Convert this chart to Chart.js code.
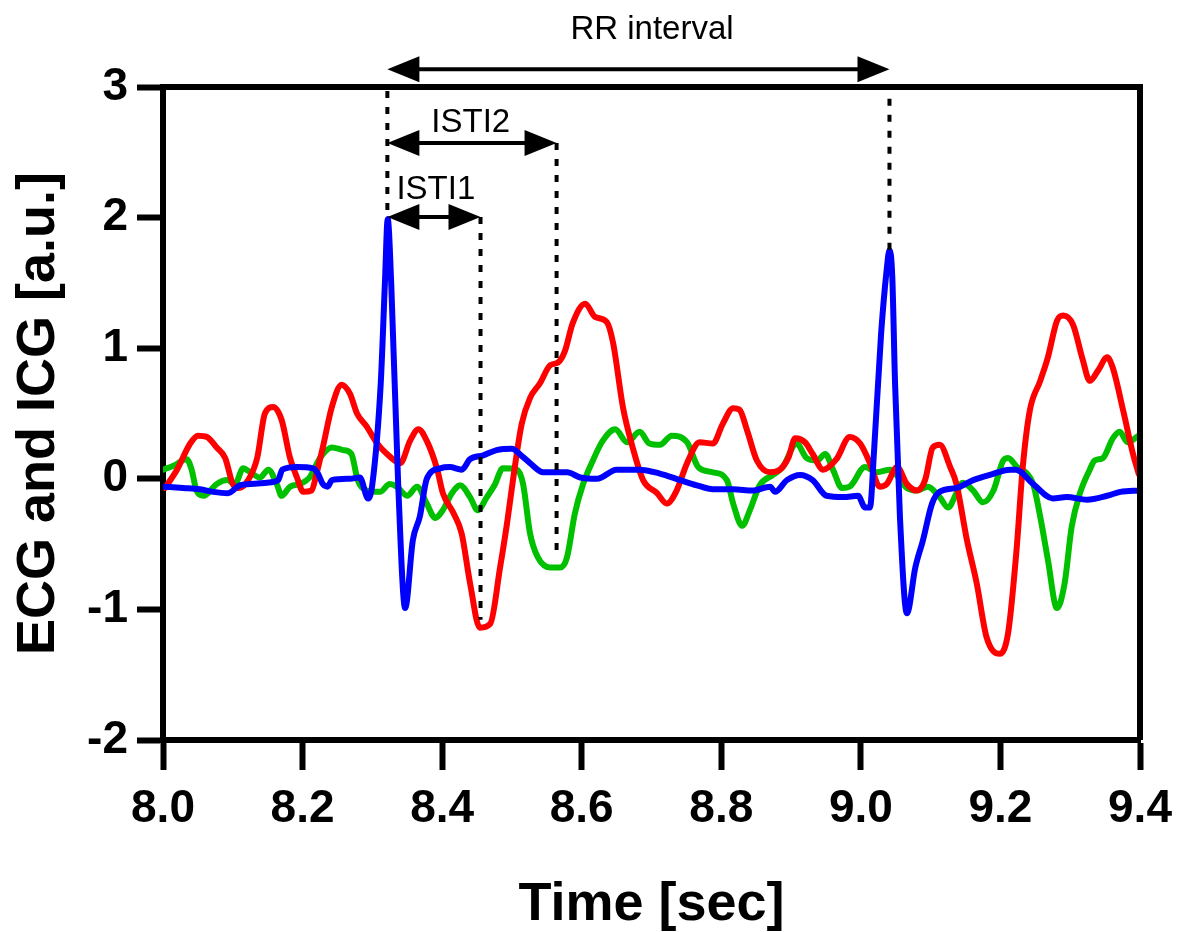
<!DOCTYPE html>
<html>
<head>
<meta charset="utf-8">
<script src="https://cdn.jsdelivr.net/npm/chart.js@4.4.1/dist/chart.umd.min.js"></script>
<style>
  html, body { margin: 0; padding: 0; background: #fff; }
  #wrap { width: 1180px; height: 932px; }
</style>
</head>
<body>
<div id="wrap"><canvas id="myChart"></canvas></div>
<script>
// ECG trace (blue)
const ecgTime = [8.000, 8.029, 8.053, 8.072, 8.093, 8.110, 8.125, 8.149, 8.165, 8.171,
  8.192, 8.215, 8.222, 8.229, 8.236, 8.242, 8.268, 8.282, 8.294, 8.300,
  8.312, 8.318, 8.322, 8.327, 8.337, 8.347, 8.358, 8.368, 8.378, 8.397,
  8.411, 8.428, 8.440, 8.459, 8.478, 8.500, 8.513, 8.526, 8.545, 8.579,
  8.598, 8.622, 8.650, 8.683, 8.712, 8.741, 8.765, 8.788, 8.817, 8.845,
  8.870, 8.877, 8.894, 8.913, 8.931, 8.951, 8.975, 8.996, 9.006, 9.013,
  9.019, 9.029, 9.037, 9.041, 9.045, 9.049, 9.056, 9.066, 9.078, 9.089,
  9.102, 9.113, 9.137, 9.161, 9.185, 9.214, 9.222, 9.247, 9.275, 9.295,
  9.324, 9.353, 9.372, 9.400];
const ecgValue = [-0.06, -0.07, -0.08, -0.10, -0.11, -0.05, -0.04, -0.03, -0.01, 0.07,
  0.09, 0.08, 0.04, -0.04, -0.06, -0.01, 0.00, 0.01, -0.15, -0.04,
  0.73, 1.50, 1.99, 1.50, -0.04, -0.99, -0.47, -0.29, 0.00, 0.08,
  0.09, 0.07, 0.15, 0.18, 0.22, 0.23, 0.18, 0.12, 0.05, 0.05,
  0.01, 0.00, 0.07, 0.07, 0.04, -0.01, -0.05, -0.08, -0.08, -0.09,
  -0.06, -0.10, -0.01, 0.03, -0.01, -0.13, -0.14, -0.13, -0.22, -0.22,
  0.22, 1.11, 1.60, 1.75, 1.55, 0.73, -0.29, -1.03, -0.68, -0.47,
  -0.19, -0.10, -0.07, -0.01, 0.03, 0.07, 0.07, -0.04, -0.15, -0.14,
  -0.16, -0.13, -0.10, -0.09];

// ICG trace (red)
const icgTime = [8.003, 8.020, 8.039, 8.050, 8.063, 8.077, 8.089, 8.100, 8.108, 8.122,
  8.135, 8.146, 8.158, 8.170, 8.182, 8.192, 8.201, 8.213, 8.220, 8.229,
  8.242, 8.256, 8.268, 8.278, 8.292, 8.307, 8.321, 8.340, 8.354, 8.366,
  8.378, 8.393, 8.401, 8.416, 8.428, 8.440, 8.454, 8.469, 8.483, 8.493,
  8.502, 8.514, 8.526, 8.540, 8.555, 8.566, 8.576, 8.587, 8.605, 8.619,
  8.636, 8.645, 8.659, 8.673, 8.688, 8.708, 8.722, 8.736, 8.751, 8.769,
  8.788, 8.802, 8.817, 8.826, 8.837, 8.851, 8.870, 8.884, 8.896, 8.906,
  8.920, 8.931, 8.946, 8.965, 8.984, 8.999, 9.013, 9.027, 9.037, 9.052,
  9.066, 9.080, 9.092, 9.103, 9.113, 9.128, 9.137, 9.152, 9.166, 9.180,
  9.199, 9.211, 9.223, 9.232, 9.242, 9.257, 9.268, 9.281, 9.290, 9.304,
  9.318, 9.328, 9.340, 9.353, 9.361, 9.376, 9.390, 9.398];
const icgValue = [-0.07, 0.07, 0.27, 0.33, 0.32, 0.24, 0.16, -0.04, -0.07, -0.01,
  0.16, 0.50, 0.55, 0.45, 0.16, 0.01, -0.10, -0.09, 0.04, 0.24,
  0.55, 0.72, 0.65, 0.50, 0.40, 0.27, 0.19, 0.12, 0.29, 0.38,
  0.29, 0.07, -0.11, -0.26, -0.42, -0.80, -1.14, -1.11, -0.68, -0.34,
  0.01, 0.42, 0.62, 0.73, 0.87, 0.89, 0.98, 1.19, 1.34, 1.24,
  1.20, 1.04, 0.55, 0.24, -0.01, -0.11, -0.19, -0.09, 0.12, 0.28,
  0.27, 0.42, 0.54, 0.53, 0.37, 0.14, 0.05, 0.07, 0.16, 0.31,
  0.28, 0.19, 0.07, 0.15, 0.32, 0.27, 0.12, -0.06, -0.04, 0.09,
  -0.04, -0.09, -0.01, 0.24, 0.26, 0.09, -0.04, -0.47, -0.80, -1.21,
  -1.34, -1.18, -0.55, 0.09, 0.52, 0.75, 0.93, 1.21, 1.25, 1.18,
  0.91, 0.75, 0.83, 0.93, 0.85, 0.52, 0.19, 0.04];

// second ICG trace (green)
const icg2Time = [8.000, 8.015, 8.034, 8.041, 8.048, 8.058, 8.077, 8.092, 8.103, 8.115,
  8.125, 8.139, 8.151, 8.163, 8.170, 8.182, 8.196, 8.210, 8.225, 8.242,
  8.258, 8.270, 8.279, 8.292, 8.311, 8.325, 8.335, 8.350, 8.364, 8.378,
  8.390, 8.401, 8.414, 8.426, 8.440, 8.451, 8.464, 8.475, 8.487, 8.507,
  8.516, 8.526, 8.537, 8.555, 8.569, 8.579, 8.590, 8.602, 8.616, 8.630,
  8.648, 8.665, 8.683, 8.697, 8.712, 8.729, 8.751, 8.767, 8.788, 8.808,
  8.817, 8.830, 8.841, 8.855, 8.874, 8.888, 8.908, 8.922, 8.937, 8.949,
  8.960, 8.973, 8.984, 9.006, 9.023, 9.042, 9.066, 9.080, 9.096, 9.113,
  9.125, 9.137, 9.146, 9.161, 9.175, 9.190, 9.204, 9.211, 9.224, 9.238,
  9.247, 9.257, 9.268, 9.281, 9.292, 9.302, 9.314, 9.328, 9.335, 9.347,
  9.361, 9.371, 9.382, 9.398];
const icg2Value = [0.07, 0.10, 0.15, 0.07, -0.09, -0.13, -0.04, -0.01, -0.04, 0.08,
  0.05, 0.01, 0.07, -0.04, -0.13, -0.06, -0.04, 0.01, 0.16, 0.24,
  0.22, 0.19, -0.01, -0.09, -0.10, -0.04, -0.06, -0.13, -0.06, -0.19,
  -0.30, -0.24, -0.11, -0.05, -0.14, -0.24, -0.14, -0.05, 0.08, 0.07,
  -0.04, -0.42, -0.60, -0.68, -0.68, -0.60, -0.27, -0.04, 0.14, 0.29,
  0.38, 0.28, 0.36, 0.27, 0.26, 0.33, 0.28, 0.09, 0.05, -0.01,
  -0.19, -0.36, -0.24, -0.05, 0.03, 0.09, 0.27, 0.16, 0.14, 0.19,
  0.07, -0.07, -0.06, 0.09, 0.05, 0.07, -0.07, -0.09, -0.06, -0.14,
  -0.22, -0.11, -0.03, -0.09, -0.18, -0.09, 0.14, 0.16, 0.09, 0.04,
  -0.04, -0.29, -0.62, -0.99, -0.80, -0.37, -0.11, 0.07, 0.14, 0.16,
  0.31, 0.36, 0.28, 0.33];

const xTicks = [8.0, 8.2, 8.4, 8.6, 8.8, 9.0, 9.2, 9.4];
const yTicks = [-2, -1, 0, 1, 2, 3];

// interval markers (time of the R peaks and of the ISTI end points)
const rPeakTime = [8.3215, 9.041];
const rPeakValue = [2.0, 1.75];
const istiEndTime = [8.455, 8.564];
const istiEndValue = [-1.08, -0.60];
const istiNames = ["ISTI1", "ISTI2"];

const FONT = "'Liberation Sans', Arial, Helvetica, sans-serif";

function toPoints(times, values) {
  return times.map((t, i) => ({ x: t, y: values[i] }));
}

// arrow with filled heads at both ends
function drawArrow(ctx, x1, x2, y) {
  const len = 32, half = 13;
  ctx.beginPath();
  ctx.moveTo(x1 + len - 2, y);
  ctx.lineTo(x2 - len + 2, y);
  ctx.stroke();
  ctx.beginPath();
  ctx.moveTo(x1, y);
  ctx.lineTo(x1 + len, y - half);
  ctx.lineTo(x1 + len, y + half);
  ctx.closePath();
  ctx.fill();
  ctx.beginPath();
  ctx.moveTo(x2, y);
  ctx.lineTo(x2 - len, y - half);
  ctx.lineTo(x2 - len, y + half);
  ctx.closePath();
  ctx.fill();
}

const intervalPlugin = {
  id: "intervals",
  afterDatasetsDraw(chart) {
    const { ctx, chartArea } = chart;
    const x = chart.scales.x, y = chart.scales.y;
    ctx.save();
    // top and right frame
    ctx.strokeStyle = "#000";
    ctx.lineWidth = 6;
    ctx.lineJoin = "miter";
    ctx.beginPath();
    ctx.moveTo(chartArea.left, chartArea.top);
    ctx.lineTo(chartArea.right, chartArea.top);
    ctx.lineTo(chartArea.right, chartArea.bottom);
    ctx.stroke();

    // dotted guide lines
    ctx.lineWidth = 4;
    ctx.setLineDash([7, 9]);
    const guides = [
      [rPeakTime[0], 2.97, rPeakValue[0]],
      [rPeakTime[1], 2.91, rPeakValue[1]],
      [istiEndTime[0], 2.005, istiEndValue[0]],
      [istiEndTime[1], 2.571, istiEndValue[1]],
    ];
    guides.forEach(function (g) {
      const px = x.getPixelForValue(g[0]);
      ctx.beginPath();
      ctx.moveTo(px, y.getPixelForValue(g[1]));
      ctx.lineTo(px, y.getPixelForValue(g[2]));
      ctx.stroke();
    });
    ctx.setLineDash([]);

    // arrows
    ctx.fillStyle = "#000";
    ctx.lineWidth = 4;
    drawArrow(ctx, x.getPixelForValue(rPeakTime[0]), x.getPixelForValue(rPeakTime[1]), y.getPixelForValue(3.135));
    drawArrow(ctx, x.getPixelForValue(rPeakTime[0]), x.getPixelForValue(istiEndTime[1]), y.getPixelForValue(2.571));
    drawArrow(ctx, x.getPixelForValue(rPeakTime[0]), x.getPixelForValue(istiEndTime[0]), y.getPixelForValue(2.005));

    // labels
    ctx.font = "33px " + FONT;
    ctx.textAlign = "center";
    ctx.textBaseline = "alphabetic";
    ctx.fillText("RR interval", x.getPixelForValue(8.7007), y.getPixelForValue(3.369));
    ctx.fillText(istiNames[1], x.getPixelForValue(8.441), y.getPixelForValue(2.655));
    ctx.fillText(istiNames[0], x.getPixelForValue(8.391), y.getPixelForValue(2.14));
    ctx.restore();
  },
};

window.onload = function () {
  const ctx = document.getElementById("myChart").getContext("2d");

  const lineStyle = {
    borderWidth: 6,
    pointRadius: 0,
    fill: false,
    cubicInterpolationMode: "monotone",
    borderJoinStyle: "round",
    borderCapStyle: "round",
  };

  const data = {
    datasets: [
      Object.assign({ label: "ECG", data: toPoints(ecgTime, ecgValue), borderColor: "#0000FF" }, lineStyle),
      Object.assign({ label: "ICG", data: toPoints(icgTime, icgValue), borderColor: "#FF0000" }, lineStyle),
      Object.assign({ label: "ICG 2", data: toPoints(icg2Time, icg2Value), borderColor: "#00C000" }, lineStyle),
    ],
  };

  const tickFont = { family: FONT, size: 46, weight: "bold" };
  const titleFont = { family: FONT, size: 54, weight: "bold", lineHeight: 1 };

  const config = {
    type: "line",
    data: data,
    options: {
      responsive: true,
      maintainAspectRatio: false,
      animation: false,
      events: [],
      layout: { padding: { top: 87, right: 40, left: 0, bottom: 0 } },
      plugins: {
        legend: { display: false },
        tooltip: { enabled: false },
      },
      scales: {
        x: {
          type: "linear",
          min: 8.0,
          max: 9.4,
          afterBuildTicks: (s) => { s.ticks = xTicks.map((v) => ({ value: v })); },
          afterFit: (s) => { s.height = 192; s.paddingLeft = 0; s.paddingRight = 0; },
          border: { display: true, color: "#000", width: 6 },
          grid: { drawOnChartArea: false, drawTicks: true, tickLength: 30, tickWidth: 6, tickColor: "#000" },
          ticks: {
            color: "#000",
            font: tickFont,
            padding: 12,
            maxRotation: 0,
            autoSkip: false,
            callback: (v) => Number(v).toFixed(1),
          },
          title: { display: true, text: "Time [sec]", color: "#000", font: titleFont, padding: { top: 0, bottom: 0 } },
        },
        y: {
          type: "linear",
          min: -2,
          max: 3,
          afterBuildTicks: (s) => { s.ticks = yTicks.map((v) => ({ value: v })); },
          afterFit: (s) => { s.width = 163; s.paddingTop = 0; s.paddingBottom = 0; },
          border: { display: true, color: "#000", width: 6 },
          grid: { drawOnChartArea: false, drawTicks: true, tickLength: 26, tickWidth: 6, tickColor: "#000" },
          ticks: {
            color: "#000",
            font: tickFont,
            padding: 9,
            autoSkip: false,
            callback: (v) => String(v),
          },
          title: { display: true, text: "ECG and ICG [a.u.]", color: "#000", font: titleFont, padding: { top: 12, bottom: 0 } },
        },
      },
    },
    plugins: [intervalPlugin],
  };

  const myChart = new Chart(ctx, config);
};
</script>
</body>
</html>
